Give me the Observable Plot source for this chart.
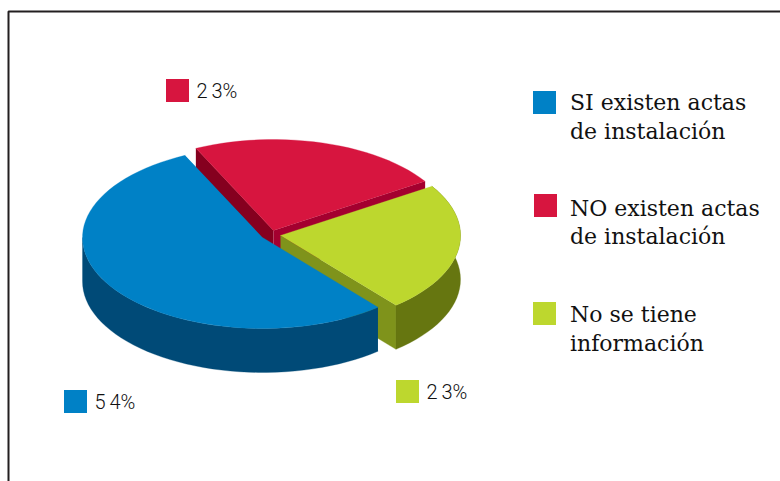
<!DOCTYPE html>
<html><head><meta charset="utf-8">
<style>html,body{margin:0;padding:0;background:#fff}svg{display:block}.pct text{word-spacing:-1px}</style>
<script src="https://cdn.jsdelivr.net/npm/d3@7"></script>
<script src="https://cdn.jsdelivr.net/npm/@observablehq/plot@0.6"></script>
</head><body><div id="chart"></div>
<script>
// Data
const categories = ["NO existen actas de instalación", "No se tiene información", "SI existen actas de instalación"];
const values = [23, 23, 54];
const percentLabels = ["2 3%", "2 3%", "5 4%"];
const legendLines = [["NO existen actas", "de instalación"], ["No se tiene", "información"], ["SI existen actas", "de instalación"]];
const colors = ["#D7153F", "#BDD72E", "#0081C6"];

// Layout
const total = d3.sum(values);
const startDeg = -25.5, rx = 180, ry = 91, depth = 44;
const centers = [[273, 230], [280, 235], [262, 237]];
const labelBoxes = [[166, 79], [396, 380], [64, 390]];
const legendBoxes = [[534, 194], [533, 302], [533, 91]];
const legendBase = [[215, 243], [321.5, 350], [109.5, 138]];
const box = 23, txt = {pct: 20, leg: 22};

let a = startDeg;
const slices = values.map((v, i) => { const s = {i, a0: a, a1: a + v / total * 360}; a = s.a1; return s; });
const pt = (s, deg, dz = 0) => {
  const r = deg * Math.PI / 180, [cx, cy] = centers[s.i];
  return {x: cx + rx * Math.sin(r), y: cy - ry * Math.cos(r) + dz};
};
const arc = (s, a0, a1, dz = 0) => d3.range(0, 1.0001, 1 / Math.max(2, Math.ceil((a1 - a0) / 3))).map(t => pt(s, a0 + (a1 - a0) * t, dz));
const apex = (s, dz = 0) => ({x: centers[s.i][0], y: centers[s.i][1] + dz});
const shape = (pts, f) => Plot.line(pts, {x: "x", y: "y", fill: f, stroke: f, strokeWidth: 0.3, curve: "linear"});
const topFace = s => shape([apex(s), ...arc(s, s.a0, s.a1)], colors[s.i]);
const cut = (s, deg, f) => { const e = pt(s, deg), e2 = pt(s, deg, depth); return shape([apex(s), e, e2, apex(s, depth)], f); };
const wall = (s, a0, a1, f) => shape([...arc(s, a0, a1), ...arc(s, a0, a1, depth).reverse()], f);

const [red, green, blue] = slices;
const legendTexts = legendLines.flatMap((ls, i) => ls.map((t, j) => ({t, y: legendBase[i][j]})));
const swatch = (b, i) => ({x1: b[0], x2: b[0] + box, y1: b[1], y2: b[1] + box, c: categories[i]});

const plot = Plot.plot({
  width: 780, height: 481,
  marginTop: 0, marginRight: 0, marginBottom: 0, marginLeft: 0,
  x: {domain: [0, 780], range: [0, 780], axis: null},
  y: {domain: [0, 481], range: [0, 481], axis: null},
  color: {domain: categories, range: colors},
  marks: [
    Plot.line([{x: 8, y: 481}, {x: 8, y: 11}, {x: 780, y: 11}], {x: "x", y: "y", stroke: "#231F20", strokeWidth: 2, curve: "linear", strokeLinejoin: "miter"}),
    cut(red, red.a0, "#85001F"),
    cut(red, red.a1, "#A4002F"),
    topFace(red),
    cut(green, green.a1, "#7F931B"),
    wall(green, green.a0, green.a1, "#667610"),
    topFace(green),
    wall(blue, blue.a0, 270, "#004A77"),
    topFace(blue),
    Plot.rect(labelBoxes.map(swatch), {x1: "x1", x2: "x2", y1: "y1", y2: "y2", fill: "c"}),
    Plot.rect(legendBoxes.map(swatch), {x1: "x1", x2: "x2", y1: "y1", y2: "y2", fill: "c"}),
    Plot.text(percentLabels.map((t, i) => ({t, x: labelBoxes[i][0] + box + 7, y: labelBoxes[i][1] + box / 2 + 0.5})), {
      x: "x", y: "y", text: "t", textAnchor: "start", fontFamily: "Roboto", fontWeight: 300, fontSize: txt.pct, fill: "#111", className: "pct"
    }),
    Plot.text(legendTexts, {
      x: () => 569.5, y: "y", text: "t", textAnchor: "start", lineAnchor: "bottom", fontFamily: "DejaVu Serif", fontSize: txt.leg, fill: "#111"
    })
  ]
});
document.getElementById("chart").append(plot);
</script></body></html>
